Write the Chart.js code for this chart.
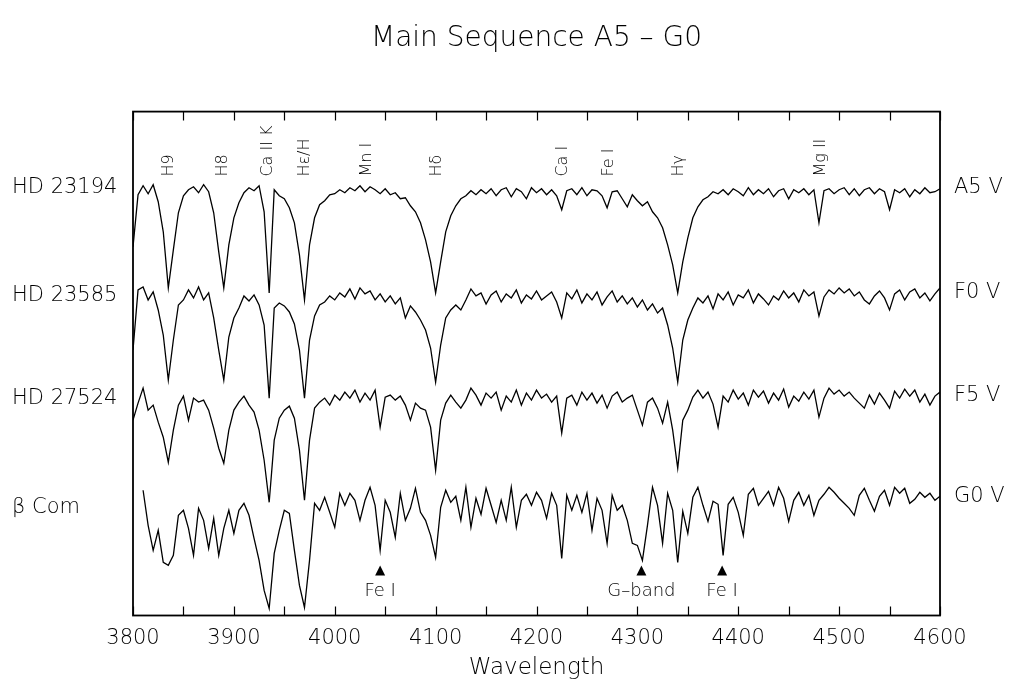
<!DOCTYPE html>
<html lang="en">
<head>
<meta charset="UTF-8">
<title>Main Sequence A5 - G0</title>
<script src="https://cdn.jsdelivr.net/npm/chart.js"></script>
<style>
  html, body { margin: 0; padding: 0; background: #fff; }
</style>
</head>
<body>
<canvas id="spec" width="1016" height="684"></canvas>
<script>
// sampling grid of the spectra (Angstrom)
const lambdaStart = 3800, lambdaStep = 5;

// relative flux, each spectrum shifted by its own offset (one row = 50 A)
const fluxA5 = [
  3.68, 4.20, 4.29, 4.21, 4.30, 4.13, 3.83, 3.27, 3.65, 4.02,
  4.19, 4.25, 4.28, 4.22, 4.30, 4.23, 4.02, 3.63, 3.27, 3.70,
  3.97, 4.12, 4.22, 4.27, 4.24, 4.29, 4.03, 3.22, 4.25, 4.19,
  4.16, 4.07, 3.92, 3.60, 3.15, 3.70, 3.97, 4.10, 4.14, 4.20,
  4.21, 4.25, 4.22, 4.27, 4.24, 4.29, 4.23, 4.28, 4.25, 4.21,
  4.26, 4.20, 4.22, 4.16, 4.17, 4.09, 4.03, 3.92, 3.75, 3.53,
  3.22, 3.53, 3.83, 3.99, 4.09, 4.16, 4.19, 4.24, 4.20, 4.25,
  4.21, 4.26, 4.19, 4.25, 4.27, 4.18, 4.26, 4.23, 4.16, 4.27,
  4.22, 4.26, 4.20, 4.25, 4.19, 4.05, 4.24, 4.26, 4.20, 4.27,
  4.19, 4.25, 4.24, 4.19, 4.07, 4.23, 4.24, 4.16, 4.08, 4.20,
  4.14, 4.09, 4.13, 4.03, 3.97, 3.87, 3.70, 3.50, 3.22, 3.53,
  3.77, 3.97, 4.08, 4.15, 4.18, 4.23, 4.21, 4.25, 4.20, 4.26,
  4.23, 4.19, 4.27, 4.20, 4.25, 4.21, 4.26, 4.18, 4.24, 4.26,
  4.16, 4.25, 4.22, 4.26, 4.20, 4.25, 3.92, 4.24, 4.26, 4.21,
  4.25, 4.27, 4.20, 4.26, 4.19, 4.25, 4.27, 4.21, 4.26, 4.23,
  4.05, 4.25, 4.22, 4.26, 4.18, 4.25, 4.21, 4.27, 4.22, 4.23,
  4.26
];
const fluxF0 = [
  2.65, 3.25, 3.28, 3.15, 3.23, 3.05, 2.80, 2.35, 2.75, 3.10,
  3.15, 3.25, 3.17, 3.28, 3.15, 3.22, 2.97, 2.65, 2.35, 2.78,
  2.97, 3.07, 3.19, 3.14, 3.20, 3.10, 2.90, 2.17, 3.07, 3.12,
  3.09, 3.03, 2.91, 2.65, 2.17, 2.75, 2.99, 3.10, 3.13, 3.19,
  3.15, 3.22, 3.18, 3.26, 3.16, 3.27, 3.21, 3.24, 3.15, 3.21,
  3.13, 3.19, 3.11, 3.17, 2.97, 3.09, 3.03, 2.95, 2.85, 2.67,
  2.33, 2.70, 2.97, 3.05, 3.10, 3.05, 3.15, 3.26, 3.19, 3.22,
  3.11, 3.20, 3.24, 3.13, 3.21, 3.17, 3.25, 3.12, 3.20, 3.16,
  3.24, 3.15, 3.19, 3.23, 3.13, 2.97, 3.22, 3.16, 3.25, 3.12,
  3.21, 3.15, 3.23, 3.10, 3.18, 3.24, 3.13, 3.19, 3.11, 3.17,
  3.08, 3.15, 3.05, 3.11, 3.02, 3.07, 2.90, 2.67, 2.33, 2.75,
  2.95, 3.07, 3.17, 3.12, 3.19, 3.06, 3.21, 3.15, 3.23, 3.10,
  3.20, 3.17, 3.25, 3.12, 3.21, 3.16, 3.10, 3.19, 3.15, 3.24,
  3.17, 3.22, 3.13, 3.25, 3.19, 3.23, 2.99, 3.18, 3.25, 3.21,
  3.27, 3.22, 3.26, 3.19, 3.23, 3.15, 3.11, 3.19, 3.24, 3.17,
  3.05, 3.21, 3.25, 3.15, 3.23, 3.26, 3.17, 3.22, 3.14, 3.21,
  3.27
];
const fluxF5 = [
  1.95, 2.12, 2.27, 2.05, 2.10, 1.93, 1.78, 1.53, 1.85, 2.10,
  2.19, 1.95, 2.17, 2.13, 2.15, 2.05, 1.87, 1.67, 1.52, 1.85,
  2.05, 2.13, 2.19, 2.10, 2.03, 1.85, 1.55, 1.13, 1.75, 1.97,
  2.05, 2.09, 1.97, 1.65, 1.15, 1.75, 2.07, 2.13, 2.17, 2.10,
  2.20, 2.15, 2.23, 2.17, 2.25, 2.13, 2.22, 2.15, 2.25, 1.88,
  2.18, 2.20, 2.15, 2.19, 2.10, 1.95, 2.12, 2.07, 2.05, 1.88,
  1.45, 1.95, 2.12, 2.20, 2.13, 2.07, 2.15, 2.27, 2.20, 2.10,
  2.22, 2.17, 2.23, 2.05, 2.19, 2.13, 2.25, 2.10, 2.22, 2.15,
  2.25, 2.17, 2.21, 2.13, 2.19, 1.82, 2.17, 2.20, 2.10, 2.23,
  2.15, 2.22, 2.12, 2.20, 2.07, 2.19, 2.23, 2.13, 2.17, 2.20,
  2.05, 1.90, 2.13, 2.17, 2.07, 1.92, 2.13, 1.85, 1.47, 1.95,
  2.05, 2.18, 2.25, 2.17, 2.23, 2.11, 1.88, 2.19, 2.13, 2.25,
  2.16, 2.22, 2.10, 2.25, 2.18, 2.24, 2.12, 2.22, 2.15, 2.26,
  2.08, 2.19, 2.14, 2.23, 2.16, 2.25, 1.98, 2.17, 2.27, 2.21,
  2.25, 2.19, 2.23, 2.17, 2.12, 2.07, 2.20, 2.11, 2.22, 2.15,
  2.07, 2.24, 2.17, 2.26, 2.19, 2.25, 2.13, 2.21, 2.10, 2.19,
  2.23
];
const fluxG0 = [
  null, null, 1.25, 0.90, 0.65, 0.85, 0.53, 0.50, 0.60, 1.00,
  1.05, 0.87, 0.60, 1.07, 0.95, 0.67, 0.97, 0.60, 0.87, 1.05,
  0.82, 1.05, 1.12, 1.00, 0.77, 0.55, 0.25, 0.07, 0.62, 0.85,
  1.05, 1.02, 0.65, 0.30, 0.08, 0.55, 1.12, 1.05, 1.18, 1.03,
  0.88, 1.22, 1.10, 1.22, 1.15, 0.95, 1.15, 1.28, 1.10, 0.65,
  1.15, 1.03, 0.78, 1.22, 0.95, 1.07, 1.27, 1.03, 0.95, 0.80,
  0.58, 1.08, 1.25, 1.13, 1.19, 0.95, 1.28, 0.88, 1.17, 1.01,
  1.27, 1.10, 0.93, 1.15, 0.95, 1.28, 0.88, 1.15, 1.21, 1.10,
  1.23, 1.15, 0.97, 1.22, 1.10, 0.57, 1.20, 1.05, 1.20, 1.03,
  1.22, 0.85, 1.17, 1.05, 0.72, 1.20, 1.05, 1.10, 0.95, 0.72,
  0.70, 0.55, 0.90, 1.28, 1.10, 0.72, 1.22, 1.05, 0.53, 1.04,
  0.82, 1.18, 1.28, 1.10, 0.94, 1.14, 1.11, 0.60, 1.11, 1.18,
  1.03, 0.80, 1.21, 1.27, 1.10, 1.17, 1.24, 1.10, 1.28, 1.17,
  0.94, 1.15, 1.23, 1.10, 1.20, 1.00, 1.15, 1.21, 1.28, 1.23,
  1.17, 1.12, 1.07, 1.00, 1.20, 1.27, 1.15, 1.04, 1.19, 1.25,
  1.10, 1.28, 1.22, 1.27, 1.12, 1.16, 1.23, 1.18, 1.22, 1.15,
  1.19
];

const starNames = ['HD 23194', 'HD 23585', 'HD 27524', 'β Com'];
const spTypes = ['A5 V', 'F0 V', 'F5 V', 'G0 V'];
const nameLevels = [4.27, 3.19, 2.17, 1.08];   // where the names sit
const typeLevels = [4.27, 3.22, 2.20, 1.19];

const lineNames = ['H9', 'H8', 'Ca II K', 'Hε/H', 'Mn I', 'Hδ', 'Ca I', 'Fe I', 'Hγ', 'Mg II'];
const lineWl = [3836, 3889, 3934, 3970, 4032, 4101, 4226, 4272, 4341, 4482];
const markNames = ['Fe I', 'G\u2013band', 'Fe I'];
const markWl = [4045, 4304, 4384];

const FONT = "'DejaVu Sans', 'Liberation Sans', sans-serif";
Chart.defaults.font.family = FONT;
Chart.defaults.color = '#000';

const toPoints = arr => arr.map((v, i) => ({ x: lambdaStart + i * lambdaStep, y: v }));
const series = [fluxA5, fluxF0, fluxF5, fluxG0];

const annotate = {
  id: 'annotate',
  afterDraw(chart) {
    const { ctx, chartArea: a, scales: { x, y } } = chart;
    ctx.save();
    ctx.strokeStyle = '#000';
    ctx.fillStyle = '#000';
    ctx.lineWidth = 1.8;
    ctx.strokeRect(a.left, a.top, a.right - a.left, a.bottom - a.top);

    // inward tick marks on top and bottom
    ctx.lineWidth = 1.2;
    x.ticks.forEach(t => {
      const px = Math.round(x.getPixelForValue(t.value)) + 0.5;
      ctx.beginPath();
      ctx.moveTo(px, a.top); ctx.lineTo(px, a.top + 9);
      ctx.moveTo(px, a.bottom); ctx.lineTo(px, a.bottom - 9);
      ctx.stroke();
    });

    // star names and spectral types
    ctx.font = '300 21px ' + FONT;
    ctx.textBaseline = 'middle';
    ctx.textAlign = 'left';
    starNames.forEach((s, i) => ctx.fillText(s, 12, y.getPixelForValue(nameLevels[i])));
    spTypes.forEach((s, i) => ctx.fillText(s, a.right + 14, y.getPixelForValue(typeLevels[i])));

    // line identifications along the top
    ctx.font = '300 16px ' + FONT;
    lineNames.forEach((s, i) => {
      ctx.save();
      ctx.translate(x.getPixelForValue(lineWl[i]), a.top + 65);
      ctx.rotate(-Math.PI / 2);
      ctx.textAlign = 'left';
      ctx.textBaseline = 'middle';
      ctx.fillText(s, 0, 0);
      ctx.restore();
    });

    // marked features under the G0 spectrum
    ctx.font = '300 18px ' + FONT;
    ctx.textAlign = 'center';
    markNames.forEach((s, i) => {
      const px = x.getPixelForValue(markWl[i]);
      const ty = a.bottom - 45;
      ctx.beginPath();
      ctx.moveTo(px, ty - 5);
      ctx.lineTo(px + 5, ty + 5);
      ctx.lineTo(px - 5, ty + 5);
      ctx.closePath();
      ctx.fill();
      ctx.fillText(s, px, a.bottom - 24);
    });
    ctx.restore();
  }
};

new Chart(document.getElementById('spec'), {
  type: 'line',
  data: {
    datasets: series.map((s, i) => ({
      label: spTypes[i],
      data: toPoints(s),
      borderColor: '#000',
      borderWidth: 1.3,
      pointRadius: 0,
      tension: 0,
      fill: false
    }))
  },
  options: {
    responsive: false,
    animation: false,
    layout: { padding: { left: 133, right: 76, top: 0, bottom: 10 } },
    scales: {
      x: {
        type: 'linear',
        min: 3800, max: 4600,
        grid: { display: false, drawTicks: false },
        border: { display: false },
        ticks: {
          stepSize: 50, autoSkip: false, maxRotation: 0, padding: 13,
          font: { size: 21, weight: '300', lineHeight: 1 },
          callback: v => (v % 100 === 0 ? String(v) : '')
        },
        title: {
          display: true, text: 'Wavelength',
          font: { size: 23, weight: '300', lineHeight: 0.5 },
          padding: { top: 0, bottom: 0 }
        }
      },
      y: { display: false, min: 0, max: 5.03 }
    },
    plugins: {
      legend: { display: false },
      tooltip: { enabled: false },
      title: {
        display: true,
        text: 'Main Sequence A5 \u2013 G0',
        font: { size: 28, weight: '300' },
        padding: { top: 22, bottom: 56 }
      }
    }
  },
  plugins: [annotate]
});
</script>
</body>
</html>
